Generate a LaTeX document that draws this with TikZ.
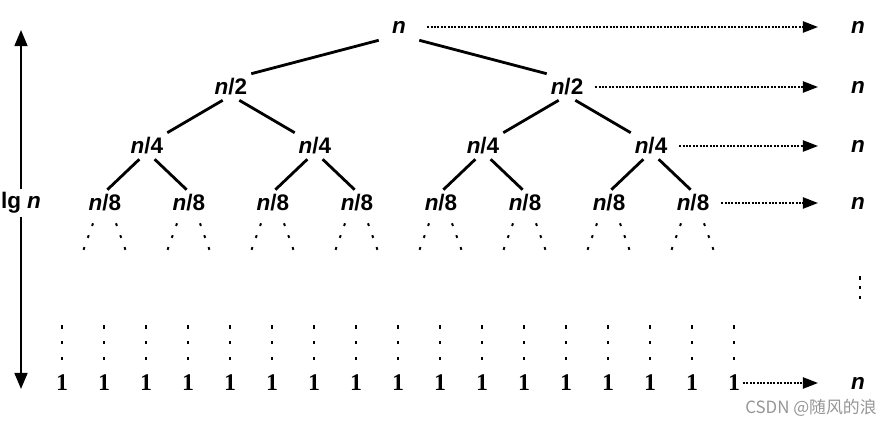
\documentclass[tikz,border=0pt]{standalone}
\usepackage{fontspec}
\setmainfont{Liberation Sans}
\newfontfamily\onefont{Liberation Serif}
\newfontfamily\cjkfont{Noto Sans CJK SC}
\usetikzlibrary{arrows.meta,calc}
\definecolor{markgray}{RGB}{150,150,150}
\newcommand{\nn}{\textit{n}}
\tikzset{
  lvl/.style={minimum width=1cm,minimum height=0.65cm,inner sep=0pt,
    font=\fontsize{16}{18}\selectfont\bfseries},
  sumlbl/.style={inner sep=2pt,font=\fontsize{16}{18}\selectfont\bfseries},
  onelbl/.style={inner sep=2pt,font=\onefont\fontsize{17}{18}\selectfont\bfseries},
  edge/.style={line width=2pt},
  branch/.style={line width=1.4pt,dash pattern=on 2pt off 7pt},
  vdots/.style={line width=1.8pt,dash pattern=on 2.5pt off 8.8pt},
  sumarrow/.style={line width=1.4pt,dash pattern=on 1.4pt off 1pt,
    -{Triangle[length=0.38cm,width=0.28cm]},shorten <=0.2cm,shorten >=0.75cm},
  lgarrow/.style={line width=1.5pt,-{Triangle[length=0.4cm,width=0.32cm]}}
}

\begin{document}
\begin{tikzpicture}[x=0.025cm,y=-0.025cm]
  \useasboundingbox (0,0) rectangle (895,427);

  \node[lvl] (root) at (399,27) {\nn};
  \foreach \k in {1,2}
    \node[lvl] (a\k) at ({231+336*(\k-1)},87) {\nn/2};
  \foreach \k in {1,...,4}
    \node[lvl] (b\k) at ({147+168*(\k-1)},146) {\nn/4};
  \foreach \k in {1,...,8}
    \node[lvl] (c\k) at ({105+84*(\k-1)},203) {\nn/8};

  \draw[edge] (root.south west) -- (a1.north east);
  \draw[edge] (root.south east) -- (a2.north west);
  \foreach \k in {1,2} {
    \pgfmathtruncatemacro\l{2*\k-1}
    \pgfmathtruncatemacro\r{2*\k}
    \draw[edge] (a\k.-122) -- (b\l.north east);
    \draw[edge] (a\k.-58) -- (b\r.north west);
  }
  \foreach \k in {1,...,4} {
    \pgfmathtruncatemacro\l{2*\k-1}
    \pgfmathtruncatemacro\r{2*\k}
    \draw[edge] (b\k.-120) -- (c\l.80);
    \draw[edge] (b\k.-60) -- (c\r.100);
  }
  \foreach \k in {1,...,8} {
    \draw[branch] ($(c\k.south)+(-12,7)$) -- ++(-10,28);
    \draw[branch] ($(c\k.south)+(11,7)$) -- ++(10,28);
  }

  \foreach \k in {1,...,17} {
    \node[onelbl] (o\k) at ({62+42*(\k-1)},383) {1};
    \draw[vdots] ($(o\k)+(0,-58)$) -- ($(o\k)+(0,-21)$);
  }

  \node[sumlbl] (s0) at (858,27) {\nn};
  \node[sumlbl] (s1) at (858,87) {\nn};
  \node[sumlbl] (s2) at (858,146) {\nn};
  \node[sumlbl] (s3) at (858,203) {\nn};
  \node[sumlbl] (s4) at (858,383) {\nn};
  \coordinate (dtop) at (860,276);
  \coordinate (dbot) at (860,300);
  \draw[vdots,dash pattern=on 2.5pt off 4.5pt] (dtop) -- (dbot);

  \draw[sumarrow] (root) -- (s0);
  \draw[sumarrow] (a2) -- (s1);
  \draw[sumarrow] (b4) -- (s2);
  \draw[sumarrow] (c8) -- (s3);
  \draw[sumarrow,shorten <=0pt] (o17) -- (s4);

  \node[sumlbl] (lg) at (21,203) {lg \nn};
  \coordinate (top) at (21,30);
  \coordinate (bot) at (21,389);
  \draw[lgarrow] (lg) -- (top);
  \draw[lgarrow] (lg) -- (bot);

  \node[text=markgray,font=\cjkfont\fontsize{12}{14}\selectfont] (wm) at (811,408)
    {CSDN @随风的浪};
\end{tikzpicture}
\end{document}
